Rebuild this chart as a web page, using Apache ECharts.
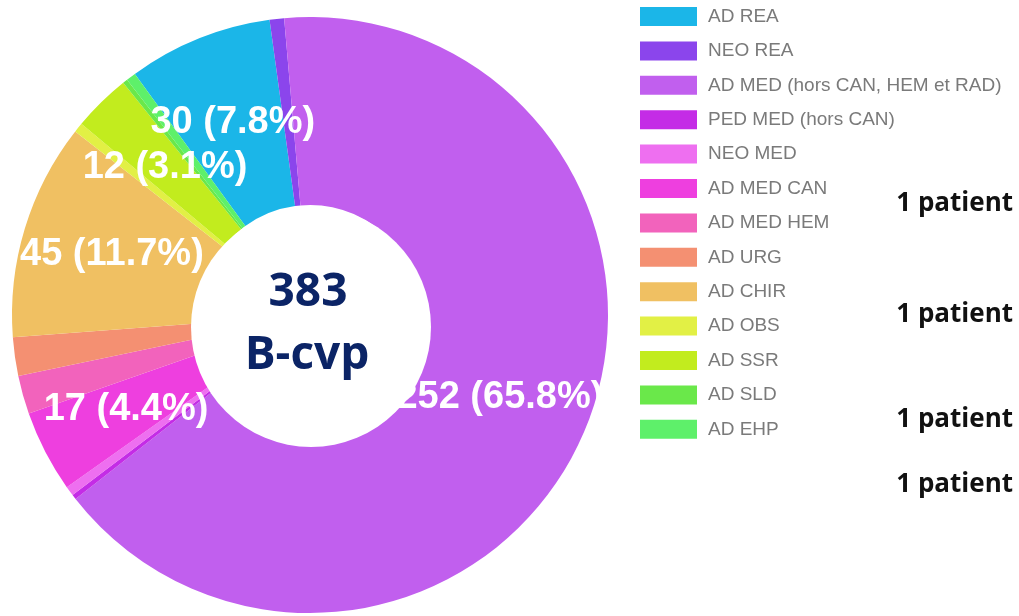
<!DOCTYPE html>
<html><head><meta charset="utf-8">
<script src="https://cdn.jsdelivr.net/npm/echarts@6/dist/echarts.min.js"></script>
<style>html,body{margin:0;padding:0;background:#fff}#c{width:1019px;height:616px}</style>
</head><body><div id="c"></div>
<script>
const categories = ['AD REA','NEO REA','AD MED (hors CAN, HEM et RAD)','PED MED (hors CAN)','NEO MED','AD MED CAN','AD MED HEM','AD URG','AD CHIR','AD OBS','AD SSR','AD SLD','AD EHP'];
const values = [30, 3, 252, 1, 2, 17, 8, 8, 45, 2, 12, 1, 2];
const colors = ['#1BB6E8','#8B45EC','#C15FEE','#C42CE6','#EE6FF0','#EE3FDF','#F263BC','#F49072','#F0C062','#E2F045','#C2EC1E','#6AE84A','#5EF06A'];
const labelled = ['AD REA','AD MED (hors CAN, HEM et RAD)','AD MED CAN','AD CHIR','AD SSR'];
const centerLines = ['383','B-cvp'];
const notes = ['1 patient','1 patient','1 patient','1 patient'];
const noteY = [204, 315, 420, 485];

const chart = echarts.init(document.getElementById('c'), null, {renderer:'canvas'});
const total = values.reduce((a,b)=>a+b,0);
const data = categories.map((n,i)=>({
  name:n, value:values[i], itemStyle:{color:colors[i]},
  label:{show: labelled.includes(n)}
}));
const graphics = [
  {type:'circle', shape:{cx:311, cy:327, r:120}, style:{fill:'#fff'}, z:100},
  {type:'text', x:308, y:293, z:101, style:{text:centerLines[0], fill:'#0B2466', font:'bold 46px "Open Sans"', textAlign:'center', textVerticalAlign:'middle'}},
  {type:'text', x:307, y:356, z:101, style:{text:centerLines[1], fill:'#0B2466', font:'bold 46px "Open Sans"', textAlign:'center', textVerticalAlign:'middle'}}
];
notes.forEach((t,i)=>graphics.push({type:'text', x:1013, y:noteY[i], z:101,
  style:{text:t, fill:'#111', font:'bold 26px "Open Sans"', textAlign:'right', textVerticalAlign:'middle'}}));

chart.setOption({
  animation:false,
  backgroundColor:'#fff',
  legend:{
    orient:'vertical', left:635, top:2, icon:'rect',
    itemWidth:57, itemHeight:19, itemGap:15.4,
    data:categories,
    textStyle:{fontFamily:'"Liberation Sans", Arial', fontSize:19, color:'#7a7a7a', lineHeight:19, padding:[0,0,0,6]}
  },
  graphic: graphics,
  series:[{
    type:'pie',
    center:[310,315],
    radius:[110,298],
    startAngle:126,
    clockwise:true,
    avoidLabelOverlap:false,
    label:{
      position:'inside',
      color:'#fff',
      fontFamily:'"Liberation Sans", Arial',
      fontWeight:'bold',
      fontSize:38,
      formatter:p=>p.value+' ('+(p.value/total*100).toFixed(1)+'%)'
    },
    labelLine:{show:false},
    emphasis:{disabled:true},
    data:data
  }]
});
</script></body></html>
